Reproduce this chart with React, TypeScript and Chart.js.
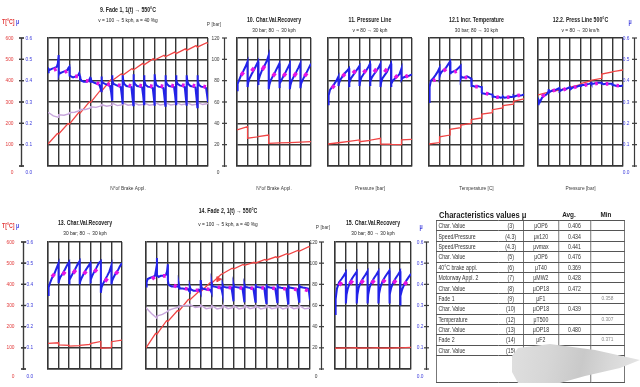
import React, { useEffect, useRef } from "react";
import { Chart, registerables } from "chart.js";

Chart.register(...registerables);

const FONT = "'Liberation Sans', Arial, sans-serif";

// ---------- tick labels ----------
const brakeLabels = ["1", "2", "3", "4", "5", "6", "7", "8", "9", "10", "11", "12", "13", "14", "15"];
const recoveryLabels = ["1", "3", "6", "9", "12", "15", "18"];
const pressureLabels = ["10", "20", "30", "40", "50", "60", "70", "80"];
const temperatureLabels = ["100", "", "200", "", "300", "", "400", "", "500"];
const muAxisValues = [0, 0.1, 0.2, 0.3, 0.4, 0.5, 0.6];
const muAxisLabels = ["0.0", "0.1", "0.2", "0.3", "0.4", "0.5", "0.6"];
const tempAxisValues = [0, 100, 200, 300, 400, 500, 600];
const tempAxisLabels = ["0", "100", "200", "300", "400", "500", "600"];
const pressAxisValues = [0, 20, 40, 60, 80, 100, 120];
const pressAxisLabels = ["0", "20", "40", "60", "80", "100", "120"];

// ---------- sample positions inside one brake application (fraction) ----------
const fadeSampleT = [0, 0.06, 0.15, 0.35, 0.6, 0.82, 0.92, 1];
const stopSampleT = [0, 0.06, 0.18, 0.38, 0.6, 0.8, 1];
const fadeMagT = [0.55, 0.8];
const stopMagT = [0.38, 0.62];
const lavT = [0, 0.5, 1];
const fadeRedT = [0, 0.88];
const stopRedT = [0, 1];

// ---------- 9. Fade 1 ----------
const fade1Mu = [
  [0.44, 0.455, 0.45, 0.455, 0.46, 0.465, 0.48, 0.52],
  [0.43, 0.44, 0.435, 0.44, 0.445, 0.45, 0.46, 0.465],
  [0.42, 0.425, 0.42, 0.415, 0.42, 0.425, 0.435, 0.42],
  [0.4, 0.41, 0.4, 0.395, 0.395, 0.4, 0.41, 0.39],
  [0.415, 0.4, 0.395, 0.39, 0.385, 0.38, 0.365, 0.35],
  [0.42, 0.4, 0.39, 0.385, 0.38, 0.375, 0.345, 0.31],
  [0.425, 0.4, 0.385, 0.38, 0.375, 0.37, 0.33, 0.29],
  [0.425, 0.4, 0.385, 0.375, 0.372, 0.37, 0.32, 0.285],
  [0.43, 0.4, 0.385, 0.375, 0.372, 0.368, 0.33, 0.29],
  [0.425, 0.4, 0.38, 0.372, 0.37, 0.365, 0.32, 0.283],
  [0.43, 0.4, 0.38, 0.372, 0.37, 0.365, 0.32, 0.283],
  [0.425, 0.4, 0.385, 0.375, 0.372, 0.37, 0.33, 0.29],
  [0.425, 0.4, 0.385, 0.378, 0.375, 0.37, 0.32, 0.283],
  [0.425, 0.4, 0.385, 0.375, 0.372, 0.368, 0.32, 0.275],
  [0.425, 0.4, 0.38, 0.372, 0.37, 0.365, 0.33, 0.3],
];
const fade1Mag = [
  [0.45, 0.455], [0.44, 0.445], [0.42, 0.42], [0.4, 0.398], [0.39, 0.385],
  [0.384, 0.38], [0.38, 0.377], [0.378, 0.375], [0.378, 0.375], [0.376, 0.373],
  [0.376, 0.373], [0.378, 0.375], [0.38, 0.377], [0.378, 0.375], [0.374, 0.37],
];
const fade1Lav = [
  [0.252, 0.235, 0.228], [0.24, 0.238, 0.245], [0.25, 0.252, 0.26], [0.265, 0.265, 0.272],
  [0.278, 0.275, 0.282], [0.288, 0.28, 0.285], [0.295, 0.283, 0.287], [0.296, 0.285, 0.288],
  [0.297, 0.286, 0.289], [0.296, 0.285, 0.289], [0.298, 0.286, 0.29], [0.297, 0.286, 0.29],
  [0.298, 0.287, 0.291], [0.297, 0.286, 0.29], [0.298, 0.288, 0.293],
];
const fade1Temp = [
  [103, 152], [150, 199], [196, 250], [247, 301], [298, 353], [350, 404], [400, 432], [425, 457],
  [450, 481], [474, 503], [497, 519], [512, 534], [527, 549], [542, 564], [557, 578],
];
const fade1TempEnd = 574;

// ---------- 10. Char. Val. Recovery ----------
const rec10Mu = [
  [0.355, 0.385, 0.4, 0.425, 0.445, 0.465, 0.49],
  [0.37, 0.39, 0.41, 0.43, 0.45, 0.47, 0.49],
  [0.38, 0.4, 0.425, 0.45, 0.47, 0.49, 0.52],
  [0.36, 0.38, 0.4, 0.42, 0.44, 0.46, 0.48],
  [0.365, 0.385, 0.4, 0.42, 0.44, 0.46, 0.48],
  [0.36, 0.38, 0.4, 0.42, 0.44, 0.46, 0.482],
  [0.365, 0.385, 0.4, 0.42, 0.44, 0.46, 0.48],
];
const rec10Mag = [[0.425, 0.44], [0.445, 0.46], [0.45, 0.47], [0.42, 0.435], [0.42, 0.435], [0.42, 0.437], [0.42, 0.435]];
const rec10Temp = [[169, 184], [130, 137], [138, 145], [106, 108], [108, 110], [110, 112], [112, 114]];

// ---------- 11. Pressure Line ----------
const press11Mu = [
  [0.29, 0.33, 0.355, 0.37, 0.385, 0.4, 0.42],
  [0.375, 0.39, 0.405, 0.42, 0.435, 0.445, 0.458],
  [0.37, 0.39, 0.41, 0.425, 0.44, 0.455, 0.47],
  [0.375, 0.395, 0.415, 0.43, 0.445, 0.46, 0.48],
  [0.375, 0.395, 0.415, 0.43, 0.445, 0.46, 0.48],
  [0.37, 0.39, 0.41, 0.425, 0.44, 0.46, 0.48],
  [0.37, 0.385, 0.4, 0.41, 0.42, 0.43, 0.458],
  [0.405, 0.41, 0.415, 0.418, 0.42, 0.425, 0.43],
];
const press11Mag = [[0.365, 0.378], [0.42, 0.432], [0.435, 0.448], [0.437, 0.45], [0.44, 0.455], [0.44, 0.455], [0.412, 0.425], [0.418, 0.425]];
const press11Temp = [[103, 109], [109, 115], [115, 122], [114, 120], [121, 130], [103, 102], [101, 100], [122, 125]];

// ---------- 12.1 Incr. Temperature ----------
const temp121Mu = [
  [0.3, 0.37, 0.4, 0.41, 0.425, 0.44, 0.46],
  [0.42, 0.43, 0.44, 0.45, 0.46, 0.475, 0.49],
  [0.43, 0.435, 0.44, 0.445, 0.45, 0.46, 0.47],
  [0.41, 0.42, 0.415, 0.415, 0.42, 0.415, 0.41],
  [0.38, 0.375, 0.375, 0.372, 0.375, 0.372, 0.37],
  [0.345, 0.34, 0.34, 0.338, 0.34, 0.337, 0.335],
  [0.33, 0.325, 0.325, 0.322, 0.323, 0.32, 0.322],
  [0.325, 0.322, 0.32, 0.322, 0.325, 0.323, 0.325],
  [0.328, 0.325, 0.328, 0.33, 0.33, 0.332, 0.335],
];
const temp121Mag = [[0.4, 0.405], [0.445, 0.455], [0.44, 0.445], [0.415, 0.415], [0.372, 0.372], [0.34, 0.338], [0.323, 0.322], [0.322, 0.323], [0.33, 0.332]];
const temp121Temp = [[103, 110], [137, 145], [172, 180], [192, 200], [218, 225], [243, 250], [264, 272], [283, 290], [303, 315]];

// ---------- 12.2 Press Line 500°C ----------
const press122Mu = [
  [0.29, 0.31, 0.3, 0.32, 0.33, 0.335, 0.35],
  [0.36, 0.345, 0.35, 0.355, 0.355, 0.36, 0.365],
  [0.355, 0.35, 0.355, 0.36, 0.36, 0.365, 0.37],
  [0.365, 0.36, 0.365, 0.37, 0.37, 0.375, 0.378],
  [0.375, 0.375, 0.38, 0.38, 0.383, 0.385, 0.388],
  [0.395, 0.385, 0.385, 0.388, 0.39, 0.39, 0.39],
  [0.385, 0.385, 0.383, 0.385, 0.385, 0.385, 0.385],
  [0.38, 0.378, 0.378, 0.375, 0.375, 0.375, 0.378],
];
const press122Mag = [[0.325, 0.335], [0.352, 0.356], [0.357, 0.362], [0.368, 0.372], [0.378, 0.382], [0.386, 0.388], [0.385, 0.385], [0.377, 0.376]];
const press122Temp = [[333, 346], [348, 355], [356, 366], [369, 382], [386, 400], [402, 411], [431, 441], [442, 450]];

// ---------- 13. Char. Val. Recovery ----------
const rec13Mu = [
  [0.35, 0.385, 0.405, 0.43, 0.45, 0.475, 0.5],
  [0.405, 0.42, 0.435, 0.45, 0.47, 0.49, 0.505],
  [0.4, 0.42, 0.435, 0.455, 0.475, 0.495, 0.51],
  [0.4, 0.415, 0.43, 0.45, 0.47, 0.485, 0.5],
  [0.405, 0.42, 0.44, 0.46, 0.48, 0.5, 0.51],
  [0.36, 0.385, 0.4, 0.42, 0.44, 0.46, 0.49],
  [0.4, 0.415, 0.43, 0.45, 0.465, 0.485, 0.5],
];
const rec13Mag = [[0.435, 0.45], [0.445, 0.46], [0.452, 0.468], [0.448, 0.462], [0.458, 0.472], [0.412, 0.428], [0.448, 0.462]];
const rec13Temp = [[121, 124], [114, 112], [108, 110], [112, 116], [120, 130], [98, 101], [129, 136]];

// ---------- 14. Fade 2 ----------
const fade2Mu = [
  [0.39, 0.41, 0.425, 0.43, 0.435, 0.44, 0.47, 0.525],
  [0.44, 0.44, 0.435, 0.44, 0.44, 0.445, 0.46, 0.495],
  [0.42, 0.4, 0.395, 0.39, 0.39, 0.39, 0.39, 0.385],
  [0.4, 0.385, 0.38, 0.38, 0.378, 0.378, 0.37, 0.365],
  [0.39, 0.38, 0.375, 0.37, 0.37, 0.375, 0.37, 0.36],
  [0.42, 0.39, 0.38, 0.378, 0.375, 0.375, 0.37, 0.36],
  [0.41, 0.395, 0.39, 0.388, 0.385, 0.385, 0.375, 0.355],
  [0.4, 0.39, 0.388, 0.385, 0.385, 0.385, 0.35, 0.32],
  [0.402, 0.39, 0.388, 0.386, 0.384, 0.382, 0.345, 0.315],
  [0.4, 0.39, 0.387, 0.385, 0.383, 0.38, 0.345, 0.318],
  [0.402, 0.392, 0.388, 0.386, 0.384, 0.382, 0.34, 0.312],
  [0.4, 0.39, 0.387, 0.385, 0.383, 0.38, 0.345, 0.315],
  [0.4, 0.39, 0.386, 0.384, 0.382, 0.38, 0.34, 0.31],
  [0.398, 0.388, 0.385, 0.383, 0.38, 0.378, 0.345, 0.318],
  [0.4, 0.39, 0.387, 0.385, 0.383, 0.38, 0.36, 0.325],
];
const fade2Mag = [
  [0.425, 0.435], [0.44, 0.44], [0.395, 0.39], [0.38, 0.378], [0.372, 0.372],
  [0.378, 0.376], [0.386, 0.385], [0.385, 0.384], [0.384, 0.382], [0.383, 0.381],
  [0.384, 0.382], [0.382, 0.38], [0.38, 0.378], [0.378, 0.375], [0.375, 0.37],
];
const fade2Lav = [
  [0.29, 0.262, 0.24], [0.25, 0.258, 0.272], [0.276, 0.285, 0.292], [0.296, 0.3, 0.3],
  [0.305, 0.29, 0.295], [0.302, 0.285, 0.29], [0.3, 0.284, 0.29], [0.301, 0.285, 0.291],
  [0.3, 0.284, 0.29], [0.301, 0.285, 0.291], [0.3, 0.284, 0.29], [0.301, 0.285, 0.29],
  [0.3, 0.284, 0.291], [0.3, 0.285, 0.29], [0.3, 0.284, 0.288],
];
const fade2Temp = [
  [100, 168], [165, 228], [225, 276], [273, 329], [326, 368], [365, 408], [405, 447], [450, 476],
  [472, 494], [490, 504], [500, 518], [514, 530], [526, 545], [541, 560], [556, 578],
];
const fade2TempEnd = 575;
const fade2Marker = [{ x: 6.62, y: 424 }];

// ---------- 15. Char. Val. Recovery ----------
const rec15Mu = [
  [0.26, 0.33, 0.38, 0.41, 0.425, 0.44, 0.457],
  [0.31, 0.35, 0.38, 0.41, 0.43, 0.445, 0.46],
  [0.31, 0.35, 0.385, 0.41, 0.43, 0.445, 0.462],
  [0.31, 0.35, 0.385, 0.41, 0.43, 0.445, 0.462],
  [0.31, 0.355, 0.385, 0.415, 0.435, 0.45, 0.465],
  [0.31, 0.35, 0.385, 0.41, 0.43, 0.445, 0.462],
  [0.3, 0.345, 0.375, 0.4, 0.42, 0.435, 0.45],
];
const rec15Mag = [[0.395, 0.41], [0.402, 0.418], [0.405, 0.42], [0.405, 0.42], [0.408, 0.422], [0.405, 0.42], [0.398, 0.412]];
const rec15Temp = [[98, 100], [99, 101], [98, 100], [99, 101], [99, 100], [98, 101], [100, 102]];

// ---------- table ----------
const tableNames = ["Char. Value", "Speed/Pressure", "Speed/Pressure", "Char. Value", "40°C brake appl.", "Motorway Appl. 2", "Char. Value", "Fade 1", "Char. Value", "Temperature", "Char. Value", "Fade 2", "Char. Value"];
const tableCodes = ["(3)", "(4.3)", "(4.3)", "(5)", "(6)", "(7)", "(8)", "(9)", "(10)", "(12)", "(13)", "(14)", "(15)"];
const tableSymbols = ["μOP6", "μv120", "μvmax", "μOP6", "μT40", "μMW2", "μOP18", "μF1", "μOP18", "μT500", "μOP18", "μF2", "μOP18"];
const tableAvg = ["0.406", "0.434", "0.441", "0.476", "0.369", "0.428", "0.472", "", "0.439", "", "0.480", "", ""];
const tableMin = ["", "", "", "", "", "", "", "0.358", "", "0.307", "", "0.371", ""];

// ---------- styles ----------
const RED = "#f04444";
const RED_TXT = "#e23a3a";
const BLUE = "#2222e8";
const BLUE_TXT = "#4040dd";
const MAG = "#e414e4";
const LAV = "#c8a6dc";
const GRID = "#363636";
const TXT = "#3a3a3a";
const SQ = 0.8; // horizontal squeeze of the lettering
const TITLE_F = `bold 6.5px ${FONT}`;
const SUB_F = `6px ${FONT}`;
const AX_F = `bold 6.5px ${FONT}`;

type SideAxis = { scale: string; x: number; values: number[]; labels: string[]; color: string; side: "left" | "right"; gap: number; zeroShift: number };
type Label = { text: string; x?: number; y: number; color: string; font: string; align: CanvasTextAlign };
type PanelSpec = {
  key: string;
  box: number[];
  n: number;
  xLabels: string[];
  sampleT: number[];
  mu: number[][];
  magT: number[];
  mag: number[][];
  lav?: number[][];
  redT: number[];
  red: number[][];
  redEnd?: number;
  marker?: { x: number; y: number }[];
  axes: SideAxis[];
  labels: Label[];
};

const title = (text: string, y: number): Label => ({ text, y, color: "#222", font: TITLE_F, align: "center" });
const sub = (text: string, y: number): Label => ({ text, y, color: "#222", font: SUB_F, align: "center" });
const xTitle = (text: string): Label => ({ text, y: 188, color: TXT, font: SUB_F, align: "center" });

const panels: PanelSpec[] = [
  {
    key: "p9", box: [48, 38, 208, 166], n: 15, xLabels: brakeLabels,
    sampleT: fadeSampleT, mu: fade1Mu, magT: fadeMagT, mag: fade1Mag, lav: fade1Lav,
    redT: fadeRedT, red: fade1Temp, redEnd: fade1TempEnd,
    axes: [
      { scale: "yT", x: 21.5, values: tempAxisValues, labels: tempAxisLabels, color: RED_TXT, side: "left", gap: 8, zeroShift: 6 },
      { scale: "y", x: 21.5, values: muAxisValues, labels: muAxisLabels, color: BLUE_TXT, side: "right", gap: 4, zeroShift: 6 },
      { scale: "yP", x: 224.5, values: pressAxisValues, labels: pressAxisLabels, color: TXT, side: "left", gap: 5, zeroShift: 6 },
    ],
    labels: [
      title("9. Fade 1, 1(t) → 550°C", 10), sub("v = 100 → 5 kph, a = 40 %g", 20), xTitle("N°of Brake Appl."),
      { text: "T[°C]", x: 2, y: 22, color: RED_TXT, font: AX_F, align: "left" },
      { text: "μ", x: 16, y: 22, color: BLUE_TXT, font: AX_F, align: "left" },
      { text: "P [bar]", x: 221, y: 24, color: TXT, font: SUB_F, align: "right" },
    ],
  },
  {
    key: "p10", box: [237, 38, 311, 166], n: 7, xLabels: recoveryLabels,
    sampleT: stopSampleT, mu: rec10Mu, magT: stopMagT, mag: rec10Mag,
    redT: stopRedT, red: rec10Temp, axes: [],
    labels: [title("10. Char.Val.Recovery", 20), sub("30 bar; 80 → 30 kph", 30), xTitle("N°of Brake Appl.")],
  },
  {
    key: "p11", box: [328, 38, 412, 166], n: 8, xLabels: pressureLabels,
    sampleT: stopSampleT, mu: press11Mu, magT: stopMagT, mag: press11Mag,
    redT: stopRedT, red: press11Temp, axes: [],
    labels: [title("11. Pressure Line", 20), sub("v = 80 → 30 kph", 30), xTitle("Pressure [bar]")],
  },
  {
    key: "p121", box: [429, 38, 524, 166], n: 9, xLabels: temperatureLabels,
    sampleT: stopSampleT, mu: temp121Mu, magT: stopMagT, mag: temp121Mag,
    redT: stopRedT, red: temp121Temp, axes: [],
    labels: [title("12.1 Incr. Temperature", 20), sub("30 bar; 80 → 30 kph", 30), xTitle("Temperature [C]")],
  },
  {
    key: "p122", box: [538, 38, 623, 166], n: 8, xLabels: pressureLabels,
    sampleT: stopSampleT, mu: press122Mu, magT: stopMagT, mag: press122Mag,
    redT: stopRedT, red: press122Temp,
    axes: [{ scale: "y", x: 634.5, values: muAxisValues, labels: muAxisLabels, color: BLUE_TXT, side: "left", gap: 5, zeroShift: 6 }],
    labels: [
      title("12.2. Press Line 500°C", 20), sub("v = 80 → 30 km/h", 30), xTitle("Pressure [bar]"),
      { text: "μ", x: 630, y: 22, color: BLUE_TXT, font: AX_F, align: "center" },
    ],
  },
  {
    key: "p13", box: [48, 242, 122, 369], n: 7, xLabels: recoveryLabels,
    sampleT: stopSampleT, mu: rec13Mu, magT: stopMagT, mag: rec13Mag,
    redT: stopRedT, red: rec13Temp,
    axes: [
      { scale: "yT", x: 23.5, values: tempAxisValues, labels: tempAxisLabels, color: RED_TXT, side: "left", gap: 9, zeroShift: 7 },
      { scale: "y", x: 23.5, values: muAxisValues, labels: muAxisLabels, color: BLUE_TXT, side: "right", gap: 3, zeroShift: 7 },
    ],
    labels: [
      title("13. Char.Val.Recovery", 223), sub("30 bar; 80 → 30 kph", 233),
      { text: "T[°C]", x: 2, y: 226, color: RED_TXT, font: AX_F, align: "left" },
      { text: "μ", x: 16, y: 226, color: BLUE_TXT, font: AX_F, align: "left" },
    ],
  },
  {
    key: "p14", box: [146, 242, 310, 369], n: 15, xLabels: brakeLabels,
    sampleT: fadeSampleT, mu: fade2Mu, magT: fadeMagT, mag: fade2Mag, lav: fade2Lav,
    redT: fadeRedT, red: fade2Temp, redEnd: fade2TempEnd, marker: fade2Marker,
    axes: [{ scale: "yP", x: 321.5, values: pressAxisValues, labels: pressAxisLabels, color: TXT, side: "left", gap: 4, zeroShift: 7 }],
    labels: [
      title("14. Fade 2, 1(t) → 550°C", 211), sub("v = 100 → 5 kph, a = 40 %g", 224),
      { text: "P [bar]", x: 330, y: 227, color: TXT, font: SUB_F, align: "right" },
    ],
  },
  {
    key: "p15", box: [335, 242, 411, 369], n: 7, xLabels: recoveryLabels,
    sampleT: stopSampleT, mu: rec15Mu, magT: stopMagT, mag: rec15Mag,
    redT: stopRedT, red: rec15Temp,
    axes: [{ scale: "y", x: 426.5, values: muAxisValues, labels: muAxisLabels, color: BLUE_TXT, side: "left", gap: 3, zeroShift: 7 }],
    labels: [
      title("15. Char.Val.Recovery", 223), sub("30 bar; 80 → 30 kph", 233),
      { text: "μ", x: 421, y: 227, color: BLUE_TXT, font: AX_F, align: "center" },
    ],
  },
];

function squeezedText(ctx: CanvasRenderingContext2D, text: string, x: number, y: number) {
  ctx.save();
  ctx.translate(x, y);
  ctx.scale(SQ, 1);
  ctx.fillText(text, 0, 0);
  ctx.restore();
}

function decoPlugin(p: PanelSpec) {
  return {
    id: "deco_" + p.key,
    afterDraw(chart: any) {
      const ctx = chart.ctx;
      const area = chart.chartArea;
      ctx.save();
      ctx.textBaseline = "middle";
      for (const a of p.axes) {
        const sc = chart.scales[a.scale];
        const top = sc.getPixelForValue(a.values[a.values.length - 1]);
        const bot = sc.getPixelForValue(a.values[0]);
        ctx.strokeStyle = "#3a3a3a";
        ctx.lineWidth = 1.2;
        ctx.beginPath();
        ctx.moveTo(a.x, top);
        ctx.lineTo(a.x, bot + 1);
        ctx.stroke();
        ctx.font = `6px ${FONT}`;
        ctx.fillStyle = a.color;
        ctx.textAlign = a.side === "left" ? "right" : "left";
        a.values.forEach((v, i) => {
          const y = sc.getPixelForValue(v);
          ctx.beginPath();
          ctx.moveTo(a.x - 2.5, y);
          ctx.lineTo(a.x + 2.5, y);
          ctx.stroke();
          const lx = a.side === "left" ? a.x - a.gap : a.x + a.gap;
          squeezedText(ctx, a.labels[i], lx, v === 0 ? y + a.zeroShift : y);
        });
      }
      for (const t of p.labels) {
        ctx.font = t.font;
        ctx.fillStyle = t.color;
        ctx.textAlign = t.align;
        const x = t.x === undefined ? (area.left + area.right) / 2 : t.x;
        squeezedText(ctx, t.text, x, t.y);
      }
      ctx.restore();
    },
  };
}

function buildConfig(p: PanelSpec): any {
  const [l, t, r, b] = p.box;
  const n = p.n;
  const half = (r - l) / n / 2;
  const pts = (rows: number[][], ts: number[]) =>
    rows.flatMap((row, i) => row.map((v, j) => ({ x: i + ts[j], y: v })));
  const blue = pts(p.mu, p.sampleT);
  const mag = p.mag.flatMap((pair, i) => [
    { x: i + p.magT[0], y: pair[0] },
    { x: i + p.magT[1], y: pair[1] },
    { x: i + p.magT[1], y: null },
  ]);
  const red = pts(p.red, p.redT).concat(p.redEnd !== undefined ? [{ x: n, y: p.redEnd }] : []);
  const datasets: any[] = [
    { data: red, yAxisID: "yT", borderColor: RED, borderWidth: 1.3, pointRadius: 0, order: 5 },
  ];
  if (p.lav) {
    datasets.push({ data: pts(p.lav, lavT), yAxisID: "y", borderColor: LAV, borderWidth: 1.4, pointRadius: 0, order: 4 });
  }
  datasets.push({ data: blue, yAxisID: "y", borderColor: BLUE, borderWidth: 2, pointRadius: 0, order: 3 });
  datasets.push({ data: mag, yAxisID: "y", borderColor: MAG, borderWidth: 3.6, borderCapStyle: "butt", pointRadius: 0, order: 2, spanGaps: false });
  if (p.marker) {
    datasets.push({
      data: p.marker, yAxisID: "yT", showLine: false, pointRadius: 3, pointStyle: "triangle",
      rotation: 90, backgroundColor: RED, borderColor: RED, order: 1,
    });
  }
  return {
    type: "line",
    data: { datasets },
    plugins: [decoPlugin(p)],
    options: {
      animation: false,
      responsive: false,
      events: [],
      layout: { padding: { left: l, top: t, right: 640 - r, bottom: 387 - b } },
      plugins: { legend: { display: false }, tooltip: { enabled: false }, title: { display: false } },
      elements: { line: { tension: 0 }, point: { radius: 0 } },
      scales: {
        x: {
          type: "linear",
          min: 0,
          max: n,
          afterBuildTicks: (s: any) => {
            s.ticks = Array.from({ length: n + 1 }, (_, i) => ({ value: i }));
          },
          afterFit: (s: any) => {
            s.height = 0;
            s.paddingLeft = 0;
            s.paddingRight = 0;
          },
          grid: { color: GRID, lineWidth: 1.4, drawTicks: false },
          border: { color: GRID, width: 1.4 },
          ticks: {
            autoSkip: false,
            maxRotation: 0,
            padding: 4,
            labelOffset: half,
            color: TXT,
            font: { size: 5.5, family: FONT },
            callback: (v: any) => p.xLabels[v] ?? "",
          },
        },
        y: {
          type: "linear",
          min: 0,
          max: 0.6,
          afterBuildTicks: (s: any) => {
            s.ticks = muAxisValues.map((v) => ({ value: v }));
          },
          afterFit: (s: any) => {
            s.width = 0;
            s.paddingTop = 0;
            s.paddingBottom = 0;
          },
          ticks: { display: false },
          grid: { color: GRID, lineWidth: 1.4, drawTicks: false },
          border: { color: GRID, width: 1.4 },
        },
        yT: { type: "linear", display: false, min: 0, max: 600 },
        yP: { type: "linear", display: false, min: 0, max: 120 },
      },
    },
  };
}

function PanelChart({ spec }: { spec: PanelSpec }) {
  const ref = useRef<HTMLCanvasElement>(null);
  useEffect(() => {
    const chart = new Chart(ref.current as HTMLCanvasElement, buildConfig(spec));
    return () => chart.destroy();
  }, [spec]);
  return (
    <canvas
      ref={ref}
      width={640}
      height={387}
      style={{ position: "absolute", left: 0, top: 0, width: 640, height: 387 }}
    />
  );
}

function CharTable() {
  const B = "1px solid #555";
  const base: any = {
    height: 9.4,
    padding: "0 2px",
    borderTop: B,
    borderBottom: B,
    lineHeight: "9px",
    whiteSpace: "nowrap",
    overflow: "hidden",
  };
  const widths = [62, 25, 35, 32, 34].map((w) => w / SQ);
  const squeeze: any = { transform: `scaleX(${SQ})`, transformOrigin: "0 0" };
  return (
    <>
      <div style={{ position: "absolute", left: 439, top: 209, fontSize: 9.5, fontWeight: "bold", color: "#222", lineHeight: "11px", whiteSpace: "nowrap", ...squeeze }}>
        Characteristics values μ
      </div>
      <div style={{ position: "absolute", left: 556, width: 26 / SQ, top: 210, textAlign: "center", fontSize: 8, fontWeight: "bold", lineHeight: "10px", color: "#222", ...squeeze }}>
        Avg.
      </div>
      <div style={{ position: "absolute", left: 592, width: 28 / SQ, top: 210, textAlign: "center", fontSize: 8, fontWeight: "bold", lineHeight: "10px", color: "#222", ...squeeze }}>
        Min
      </div>
      <table
        style={{
          position: "absolute", left: 436, top: 220, width: 188 / SQ, borderCollapse: "collapse",
          tableLayout: "fixed", fontSize: 6.5, color: "#333", fontFamily: FONT, ...squeeze,
        }}
      >
        <colgroup>
          {widths.map((w, i) => (
            <col key={i} style={{ width: w }} />
          ))}
        </colgroup>
        <tbody>
          {tableNames.map((name, i) => (
            <tr key={i}>
              <td style={{ ...base, borderLeft: B }}>{name}</td>
              <td style={{ ...base, borderRight: B, textAlign: "center" }}>{tableCodes[i]}</td>
              <td style={{ ...base, borderRight: B, textAlign: "center" }}>{tableSymbols[i]}</td>
              <td style={{ ...base, borderRight: B, textAlign: "center" }}>{tableAvg[i]}</td>
              <td style={{ ...base, borderRight: B, textAlign: "center", color: "#8a8a8a", fontSize: 6 }}>{tableMin[i]}</td>
            </tr>
          ))}
          <tr>
            <td colSpan={2} style={{ ...base, height: 26, borderLeft: B, borderRight: B }} />
            <td style={{ ...base, height: 26, borderRight: B, textAlign: "center", verticalAlign: "bottom" }}>μmin</td>
            <td style={{ ...base, height: 26, borderRight: B }} />
            <td style={{ ...base, height: 26, borderRight: B }} />
          </tr>
        </tbody>
      </table>
      <div
        style={{
          position: "absolute", left: 510, top: 344, width: 130, height: 40,
          background: "linear-gradient(100deg, #e0e0e0 0%, #d6d6d6 30%, #c9c9c9 55%, #d8d8d8 75%, #e6e6e6 100%)",
          clipPath: "polygon(8px 4px, 40px 0px, 85px 6px, 130px 16px, 110px 24px, 75px 32px, 50px 39px, 8px 39px, 2px 28px, 2px 12px)",
        }}
      />
    </>
  );
}

export default function App() {
  useEffect(() => {
    document.body.style.margin = "0";
  }, []);
  return (
    <div
      style={{
        position: "absolute", left: 0, top: 0, width: 640, height: 387, overflow: "hidden",
        background: "#fff", fontFamily: FONT,
      }}
    >
      {panels.map((p) => (
        <PanelChart key={p.key} spec={p} />
      ))}
      <CharTable />
    </div>
  );
}
